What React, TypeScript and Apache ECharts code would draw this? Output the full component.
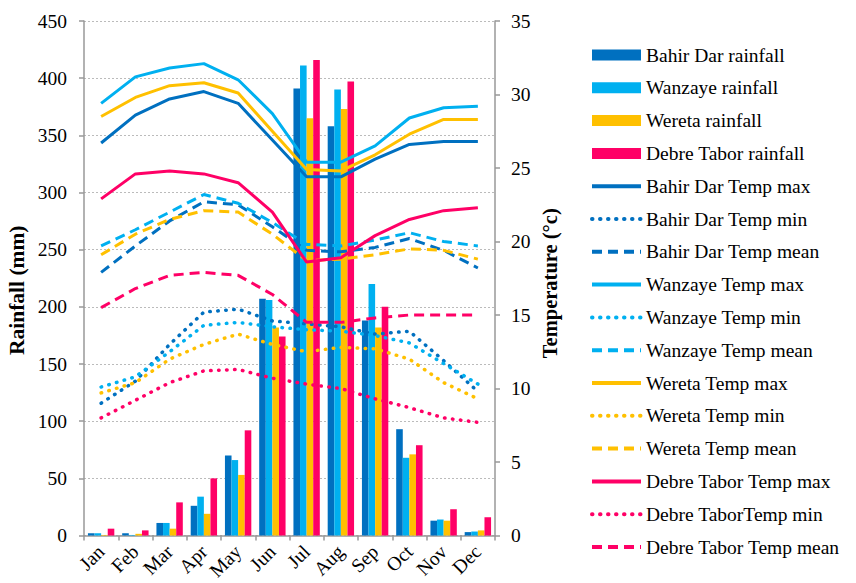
import React, { useEffect, useRef } from "react";
import * as echarts from "echarts";

const months = ["Jan", "Feb", "Mar", "Apr", "May", "Jun", "Jul", "Aug", "Sep", "Oct", "Nov", "Dec"];

// Monthly rainfall (mm)
const bahirDarRain = [2, 2, 11, 26, 70, 207, 391, 358, 188, 93, 13, 3];
const wanzayeRain = [2, 0.5, 11, 34, 66, 206, 411, 390, 220, 68, 14, 3.5];
const weretaRain = [0.5, 1.5, 6, 19, 53, 182, 365, 373, 182, 71, 13, 4.5];
const debreTaborRain = [6, 4.5, 29, 50, 92, 174, 416, 397, 200, 79, 23, 16];

// Monthly temperatures (°C)
const bahirDarMax = [26.7, 28.6, 29.7, 30.2, 29.4, 26.9, 24.4, 24.4, 25.6, 26.6, 26.8, 26.8];
const bahirDarMin = [9.0, 10.5, 13.0, 15.2, 15.4, 14.6, 14.4, 14.2, 13.7, 13.9, 11.9, 9.8];
const bahirDarMean = [17.9, 19.7, 21.4, 22.7, 22.5, 21.0, 19.4, 19.3, 19.6, 20.2, 19.4, 18.2];

const wanzayeMax = [29.4, 31.2, 31.8, 32.1, 31.0, 28.7, 25.4, 25.4, 26.5, 28.4, 29.1, 29.2];
const wanzayeMin = [10.1, 10.8, 12.5, 14.3, 14.5, 14.2, 14.0, 13.9, 13.6, 13.1, 11.7, 10.3];
const wanzayeMean = [19.7, 20.8, 22.0, 23.2, 22.6, 21.3, 19.8, 19.7, 20.1, 20.6, 20.0, 19.7];

const weretaMax = [28.5, 29.8, 30.6, 30.8, 30.1, 27.5, 24.9, 24.8, 25.9, 27.3, 28.3, 28.3];
const weretaMin = [9.7, 10.4, 12.0, 13.0, 13.7, 13.0, 12.5, 12.8, 12.7, 12.0, 10.4, 9.3];
const weretaMean = [19.1, 20.5, 21.5, 22.1, 22.0, 20.5, 18.7, 18.8, 19.1, 19.5, 19.4, 18.8];

const debreTaborMax = [22.9, 24.6, 24.8, 24.6, 24.0, 22.0, 18.6, 18.9, 20.4, 21.5, 22.1, 22.3];
const debreTaborMin = [8.0, 9.2, 10.4, 11.2, 11.3, 10.7, 10.3, 10.0, 9.3, 8.7, 8.0, 7.7];
const debreTaborMean = [15.5, 16.8, 17.7, 17.9, 17.7, 16.4, 14.5, 14.5, 14.8, 15.0, 15.0, 15.0];

const rainNames = ["Bahir Dar rainfall", "Wanzaye rainfall", "Wereta rainfall", "Debre Tabor rainfall"];
const tempNames = [
  "Bahir Dar Temp max",
  "Bahir Dar Temp min",
  "Bahir Dar Temp mean",
  "Wanzaye Temp max",
  "Wanzaye Temp min",
  "Wanzaye Temp mean",
  "Wereta Temp max",
  "Wereta Temp min",
  "Wereta Temp mean",
  "Debre Tabor Temp max",
  "Debre TaborTemp min",
  "Debre Tabor Temp mean",
];

const BLUE = "#0070C0";
const CYAN = "#00B0F0";
const GOLD = "#FFC000";
const PINK = "#FF0066";

const FONT = "'Liberation Serif', 'Times New Roman', serif";

const bar = (name: string, data: number[], color: string) => ({
  name,
  type: "bar",
  yAxisIndex: 0,
  data,
  barGap: "0%",
  barCategoryGap: "23%",
  itemStyle: { color },
});

const DOT: number[] = [0.5, 7.5];
const DASH: number[] = [10, 6];

const line = (name: string, data: number[], color: string, kind: "solid" | "dot" | "dash") => ({
  name,
  type: "line",
  yAxisIndex: 1,
  data,
  symbol: "none",
  z: 3,
  lineStyle: {
    color,
    width: kind === "dot" ? 3.5 : 3,
    type: kind === "solid" ? "solid" : kind === "dot" ? DOT : DASH,
    cap: kind === "dot" ? "round" : "butt",
  },
  itemStyle: { color },
});

export default function App() {
  const ref = useRef<HTMLDivElement>(null);

  useEffect(() => {
    if (!ref.current) return;
    const chart = echarts.init(ref.current, undefined, { renderer: "svg" });
    const axisLine = { show: true, lineStyle: { color: "#999", width: 1.5 } };
    const tick = { show: true, length: 5, lineStyle: { color: "#999", width: 1.5 } };
    const tickLabel = { fontFamily: FONT, fontSize: 19.5, color: "#000" };
    chart.setOption({
      animation: false,
      backgroundColor: "#fff",
      textStyle: { fontFamily: FONT, color: "#000" },
      grid: { left: 84, right: 361, top: 21, bottom: 46, containLabel: false },
      legend: {
        orient: "vertical",
        left: 585,
        top: 40,
        itemWidth: 49,
        itemHeight: 11,
        itemGap: 12.8,
        textStyle: { fontFamily: FONT, fontSize: 19.5, color: "#000", lineHeight: 20 },
        data: [
          ...rainNames.map((name) => ({ name, icon: "rect" })),
          ...tempNames.map((name) => ({
            name,
            itemStyle: { color: "rgba(0,0,0,0)", opacity: 0, borderWidth: 0 },
            lineStyle: { width: 4 },
          })),
        ],
      },
      xAxis: {
        type: "category",
        data: months,
        boundaryGap: true,
        axisLine,
        axisTick: tick,
        axisLabel: { ...tickLabel, rotate: 45, margin: 13, interval: 0 },
      },
      yAxis: [
        {
          type: "value",
          min: 0,
          max: 450,
          interval: 50,
          name: "Rainfall (mm)",
          nameLocation: "middle",
          nameGap: 56,
          nameRotate: 90,
          nameTextStyle: {
            fontFamily: FONT,
            fontSize: 21.5,
            fontWeight: "bold",
            color: "#000",
            padding: [0, 24, 0, 0],
          },
          axisLine,
          axisTick: tick,
          axisLabel: { ...tickLabel, margin: 17 },
          splitLine: { show: true, lineStyle: { color: "#bbb", type: [2, 2], width: 1 } },
        },
        {
          type: "value",
          min: 0,
          max: 35,
          interval: 5,
          position: "right",
          name: "Temperature (°c)",
          nameLocation: "middle",
          nameGap: 44,
          nameRotate: 90,
          nameTextStyle: {
            fontFamily: FONT,
            fontSize: 20.5,
            fontWeight: "bold",
            color: "#000",
            padding: [0, 10, 0, 0],
          },
          axisLine,
          axisTick: tick,
          axisLabel: { ...tickLabel, margin: 16 },
          splitLine: { show: false },
        },
      ],
      series: [
        bar(rainNames[0], bahirDarRain, BLUE),
        bar(rainNames[1], wanzayeRain, CYAN),
        bar(rainNames[2], weretaRain, GOLD),
        bar(rainNames[3], debreTaborRain, PINK),
        line(tempNames[0], bahirDarMax, BLUE, "solid"),
        line(tempNames[1], bahirDarMin, BLUE, "dot"),
        line(tempNames[2], bahirDarMean, BLUE, "dash"),
        line(tempNames[3], wanzayeMax, CYAN, "solid"),
        line(tempNames[4], wanzayeMin, CYAN, "dot"),
        line(tempNames[5], wanzayeMean, CYAN, "dash"),
        line(tempNames[6], weretaMax, GOLD, "solid"),
        line(tempNames[7], weretaMin, GOLD, "dot"),
        line(tempNames[8], weretaMean, GOLD, "dash"),
        line(tempNames[9], debreTaborMax, PINK, "solid"),
        line(tempNames[10], debreTaborMin, PINK, "dot"),
        line(tempNames[11], debreTaborMean, PINK, "dash"),
      ],
    });
    return () => chart.dispose();
  }, []);

  return (
    <div
      ref={ref}
      style={{ position: "absolute", left: 0, top: 0, width: 856, height: 583 }}
    />
  );
}
